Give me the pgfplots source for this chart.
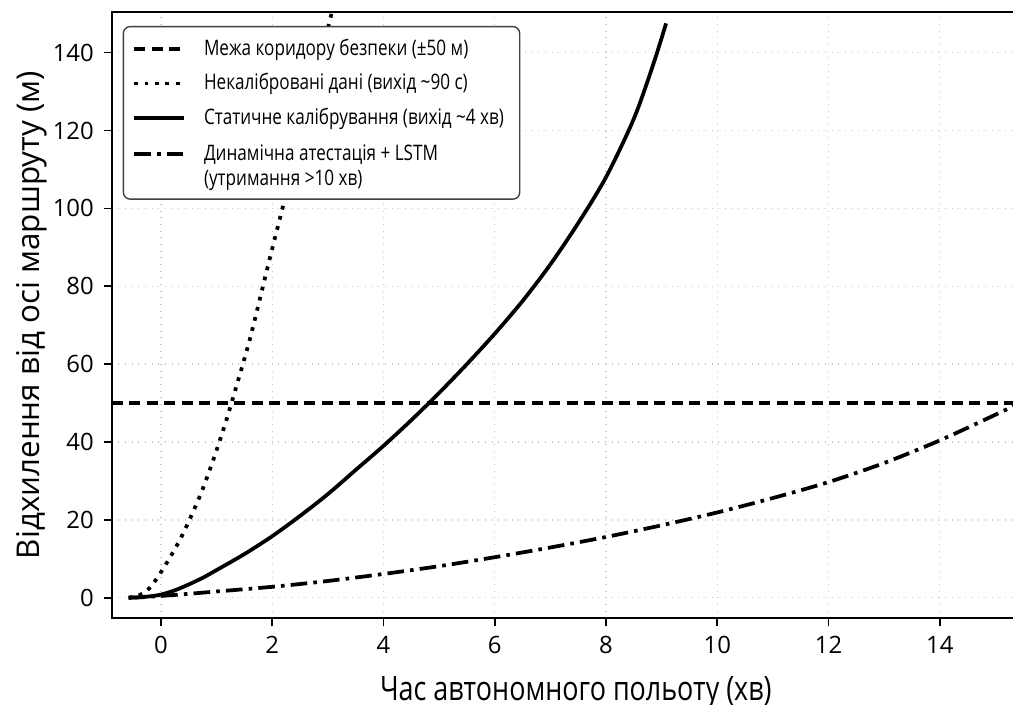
\documentclass[border=0pt]{standalone}
\usepackage{fontspec}
\setmainfont{Open Sans}
\newfontfamily\condfont[FakeStretch=0.8]{Open Sans}
\usepackage{pgfplots}
\pgfplotsset{compat=1.18}
\begin{document}
\begin{tikzpicture}
\begin{axis}[
  name=ax, scale only axis, width=334.2pt, height=218.4pt,
  xmin=-0.886, xmax=15.8, ymin=-5.3, ymax=150.5,
  xtick={0,2,...,14}, ytick={0,20,...,140},
  xtick pos=left, ytick pos=left, tick align=outside, major tick length=2.9pt,
  grid=major, grid style={dotted, gray!45, line width=0.5pt},
  axis line style={line width=0.8pt},
  major tick style={line width=0.6pt, black},
  /pgf/number format/assume math mode=true,
  tick label style={font=\fontsize{8.6}{10}\selectfont},
  xlabel={Час автономного польоту (хв)},
  ylabel={Відхилення від осі маршруту (м)},
  every axis x label/.style={at={(axis description cs:0.5,0)}, anchor=base, yshift=-29.4pt,
    font=\condfont\fontsize{12.1}{14}\selectfont},
  every axis y label/.style={at={(axis description cs:-0.0859,0.5)}, rotate=90, anchor=center,
    font=\fontsize{11.3}{13}\selectfont},
  legend image code/.code={\draw[#1] (0pt,2.3pt) -- (18pt,2.3pt);},
  legend style={at={(axis description cs:0,1)}, anchor=north west, xshift=3.96pt, yshift=-5.1pt,
    draw=black!75, line width=0.5pt, rounded corners=2.5pt, fill=white,
    inner xsep=3.2pt, inner ysep=2pt, column sep=4pt, row sep=0pt,
    font=\condfont\fontsize{7.7}{9.2}\selectfont,
    nodes={inner sep=2.5pt, anchor=base west}},
]
% safety corridor
\addplot[black, line width=1.35pt, dash pattern=on 4pt off 2.3pt] coordinates {(-0.886,50) (15.8,50)};
\addlegendentry{Межа коридору безпеки (±50 м)}
% uncalibrated
\addplot[black, line width=1.35pt, dash pattern=on 1.35pt off 2.4pt, smooth] coordinates {
  (-0.58,0) (-0.4,0.6) (-0.27,1.6) (-0.14,3.6) (0.09,8.6) (0.37,15.7) (0.70,26.1)
  (0.96,36.2) (1.18,45.8) (1.35,54) (1.6,66.5) (1.93,85.6) (2.17,99.2) (2.5,117.5)
  (2.8,134.5) (3.1,152)};
\addlegendentry{Некалібровані дані (вихід \textasciitilde 90 с)}
% static calibration
\addplot[black, line width=1.35pt, smooth] coordinates {
  (-0.58,0) (-0.4,0.1) (-0.2,0.35) (0,0.8) (0.25,1.9) (0.5,3.4) (0.75,5.1) (1,7.1)
  (1.5,11.2) (2,15.8) (2.5,21.0) (3,26.6) (3.5,32.8) (4,39.0) (4.5,45.6) (5,52.6)
  (5.5,60.0) (6,67.8) (6.5,76.2) (7,85.6) (7.5,96.2) (8,108) (8.5,123) (8.85,137) (9.08,147.5)};
\addlegendentry{Статичне калібрування (вихід \textasciitilde 4 хв)}
% dynamic attestation + LSTM
\addplot[black, line width=1.35pt, dash pattern=on 6pt off 2.2pt on 1.3pt off 2.2pt, smooth] coordinates {
  (-0.58,0) (-0.3,0.15) (0,0.45) (0.5,1.0) (1,1.6) (2,2.8) (3,4.3) (4,6.1) (5,8.1) (6,10.4) (7,12.9)
  (8,15.6) (9,18.6) (10,21.9) (11,25.6) (12,29.7) (13,34.6) (14,40.4) (15,47.0) (15.8,52.5)};
\addlegendentry[text depth=9.5pt]{\begin{tabular}[t]{@{}l@{}}Динамічна атестація + LSTM\\(утримання >10 хв)\end{tabular}}
\end{axis}
\pgfresetboundingbox
\useasboundingbox ([xshift=-40.2pt,yshift=-30.85pt]ax.south west) rectangle ([xshift=324.5pt,yshift=4.21pt]ax.north west);
\end{tikzpicture}
\end{document}
